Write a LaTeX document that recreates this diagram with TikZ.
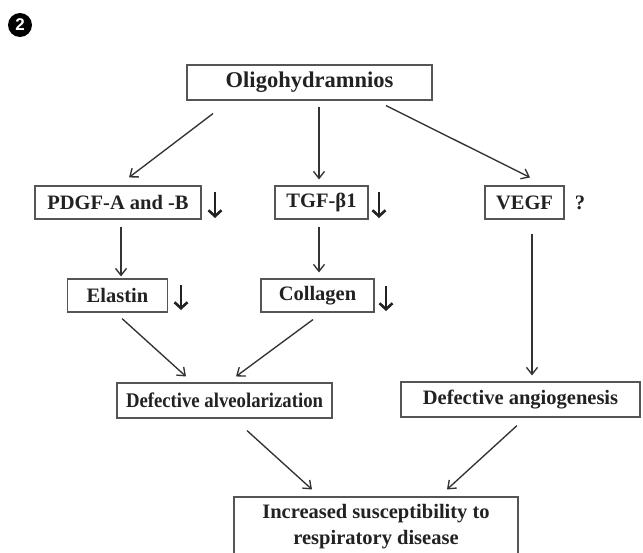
\documentclass[tikz,border=0pt]{standalone}
\usepackage{fontspec}
\setmainfont{Liberation Serif}
\newfontfamily\numfont{Liberation Sans}
\newfontfamily\narrowserif[FakeStretch=0.9]{Liberation Serif}
\usetikzlibrary{arrows.meta}
\definecolor{txt}{HTML}{222222}
\definecolor{edge}{HTML}{555555}
\definecolor{ln}{HTML}{333333}
\tikzset{
  box/.style={draw=edge, line width=1.1pt, text=txt, font=\bfseries\fontsize{20.5}{25}\selectfont, inner sep=0pt, align=center},
  arr/.style={draw=ln, line width=1.35pt, -{Straight Barb[length=7pt,width=11pt,line width=1.35pt]}},
  downarr/.style={draw=txt, line width=2.8pt, -{Straight Barb[length=6pt,width=13pt,line width=2.6pt]}},
}
\begin{document}
\begin{tikzpicture}[x=1pt,y=-1pt]
\clip (0,0) rectangle (643,552);
\fill[white] (0,0) rectangle (643,552);
% badge
\node[circle, fill=black, minimum size=24pt, inner sep=0pt, text=white, font=\numfont\bfseries\fontsize{17}{17}\selectfont] (badge) at (20,25) {2};
% boxes
\node[box, minimum width=245pt, minimum height=35pt, font=\bfseries\fontsize{22.5}{25}\selectfont] (oligo) at (309.5,82.5) {Oligohydramnios};
\node[box, minimum width=166pt, minimum height=33pt] (pdgf) at (118,202.5) {PDGF-A and -B};
\node[box, minimum width=93pt, minimum height=33pt] (tgf) at (321.5,202.5) {TGF-β1};
\node[box, minimum width=79pt, minimum height=33pt] (vegf) at (524.5,202.5) {VEGF};
\node[box, minimum width=100pt, minimum height=33pt] (elastin) at (117.5,295.5) {Elastin};
\node[box, minimum width=113pt, minimum height=33pt] (collagen) at (317.5,295.5) {Collagen};
\node[box, minimum width=215pt, minimum height=35pt, font=\narrowserif\bfseries\fontsize{20.8}{25}\selectfont] (defalv) at (224.5,400.5) {Defective alveolarization};
\node[box, minimum width=239pt, minimum height=35pt] (defang) at (520.5,399.5) {Defective angiogenesis};
\node[box, minimum width=284pt, minimum height=60pt, font=\bfseries\fontsize{20.5}{26}\selectfont] (inc) at (376,527) {Increased susceptibility to\\respiratory disease};
\node[text=txt, font=\bfseries\fontsize{20.5}{25}\selectfont, inner sep=0pt] (qvegf) at (580,203) {?};
% decrease marks
\coordinate (dpdgf) at (215,192);
\coordinate (dtgf) at (379,192);
\coordinate (delastin) at (181,285);
\coordinate (dcollagen) at (386,286);
\draw[downarr] (dpdgf) -- ++(0,26);
\draw[downarr] (dtgf) -- ++(0,26);
\draw[downarr] (delastin) -- ++(0,25);
\draw[downarr] (dcollagen) -- ++(0,25);
% connectors
\draw[arr] ([xshift=-96.5pt,yshift=-13pt]oligo.south) -- ([xshift=11pt,yshift=8pt]pdgf.north);
\draw[arr] ([xshift=9.5pt,yshift=-6pt]oligo.south) -- ([xshift=-2.5pt,yshift=6pt]tgf.north);
\draw[arr] ([xshift=76.5pt,yshift=-5pt]oligo.south) -- ([xshift=5.5pt,yshift=8pt]vegf.north);
\draw[arr] ([xshift=3pt,yshift=-7pt]pdgf.south) -- ([xshift=3.5pt,yshift=2pt]elastin.north);
\draw[arr] ([xshift=-2.5pt,yshift=-7pt]tgf.south) -- ([xshift=1.5pt,yshift=6pt]collagen.north);
\draw[arr] ([xshift=7.5pt,yshift=-14pt]vegf.south) -- ([xshift=11.5pt,yshift=6pt]defang.north);
\draw[arr] ([xshift=4.5pt,yshift=-6pt]elastin.south) -- ([xshift=-38.5pt,yshift=6pt]defalv.north);
\draw[arr] ([xshift=-4.5pt,yshift=-7pt]collagen.south) -- ([xshift=11.5pt,yshift=6pt]defalv.north);
\draw[arr] ([xshift=22.5pt,yshift=-12pt]defalv.south) -- ([xshift=-64pt,yshift=7pt]inc.north);
\draw[arr] ([xshift=-3.5pt,yshift=-8pt]defang.south) -- ([xshift=71pt,yshift=7pt]inc.north);
\end{tikzpicture}
\end{document}
